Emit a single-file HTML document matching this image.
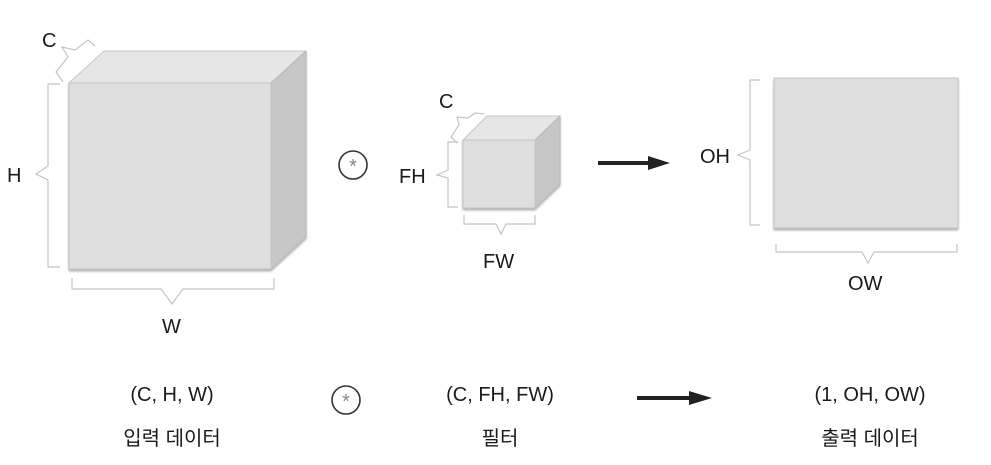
<!DOCTYPE html>
<html><head><meta charset="utf-8"><style>
html,body{margin:0;padding:0;background:#fff;}
svg{display:block;}
text{font-family:"Liberation Sans","Noto Sans CJK KR",sans-serif;fill:#1a1a1a;}
</style></head><body>
<svg width="991" height="465" viewBox="0 0 991 465" xmlns="http://www.w3.org/2000/svg">
<defs>
<filter id="sh" x="-5%" y="-5%" width="115%" height="115%"><feDropShadow dx="0" dy="2" stdDeviation="1" flood-color="#000" flood-opacity="0.3"/></filter>
</defs>
<!-- big cube -->
<g filter="url(#sh)">
<polygon points="69,83 104,51 306,51 271,83" fill="#e6e6e6" stroke="#c8c8c8"/>
<polygon points="271,83 306,51 306,237 271,269" fill="#c6c6c6" stroke="#b8b8b8"/>
<rect x="69" y="83" width="202" height="186" fill="#dedede" stroke="#c4c4c4"/>
</g>
<g fill="none" stroke="#c4c4c4" stroke-width="1.2">
<path d="M63,82 L56,72 L68,57 L62,47 L75,50 L88,40 L95,46"/>
<path d="M60,84 L48,84 L48,166 L36,174 L48,180 L48,267 L60,267"/>
<path d="M72,278 L72,289 L161,289 L172,304 L183,289 L274,289 L274,278"/>
<!-- filter braces -->
<path d="M457,143 L451,137 L459,125 L457,117 L468,118 L475,113 L484,114 L484,114"/>
<path d="M458,142 L448,142 L448,170 L437,175 L448,178 L448,207 L458,207"/>
<path d="M464,215 L464,224 L496,224 L501,234 L506,224 L535,224 L535,215"/>
<!-- output braces -->
<path d="M760,80 L750,80 L750,150 L738,155 L750,160 L750,225 L760,225"/>
<path d="M776,244 L776,252 L862,252 L868,263 L874,252 L957,252 L957,244"/>
</g>
<text x="42" y="47" font-size="20">C</text>
<text x="7" y="182" font-size="20">H</text>
<text x="162" y="333" font-size="20">W</text>
<!-- operator -->
<circle cx="353" cy="165" r="14" fill="none" stroke="#333" stroke-width="1.6"/>
<text x="353" y="173" font-size="20" text-anchor="middle" style="fill:#888">*</text>
<!-- filter cube -->
<g filter="url(#sh)">
<polygon points="463,140 487,116 560,116 535,140" fill="#e6e6e6" stroke="#c8c8c8"/>
<polygon points="535,140 560,116 560,184 535,208" fill="#c6c6c6" stroke="#b8b8b8"/>
<rect x="463" y="140" width="72" height="68" fill="#dedede" stroke="#c4c4c4"/>
</g>
<text x="439" y="108" font-size="20">C</text>
<text x="399" y="183" font-size="20">FH</text>
<text x="483" y="268" font-size="20">FW</text>
<!-- arrow -->
<rect x="598" y="161" width="52" height="4" fill="#222"/>
<polygon points="648,156 670,163 648,170" fill="#222"/>
<!-- output -->
<rect x="774" y="78" width="184" height="150" fill="#dedede" stroke="#c4c4c4" filter="url(#sh)"/>
<text x="700" y="163" font-size="20">OH</text>
<text x="848" y="290" font-size="20">OW</text>
<!-- bottom row -->
<g font-size="20" text-anchor="middle">
<text x="172" y="401">(C, H, W)</text>
<text x="172" y="445">입력 데이터</text>
<text x="500" y="401">(C, FH, FW)</text>
<text x="500" y="445">필터</text>
<text x="870" y="401">(1, OH, OW)</text>
<text x="870" y="445">출력 데이터</text>
</g>
<circle cx="346" cy="400" r="14" fill="none" stroke="#333" stroke-width="1.6"/>
<text x="346" y="408" font-size="20" text-anchor="middle" style="fill:#888">*</text>
<rect x="637" y="396" width="54" height="4" fill="#222"/>
<polygon points="689,391 712,398 689,405" fill="#222"/>
</svg>
</body></html>
